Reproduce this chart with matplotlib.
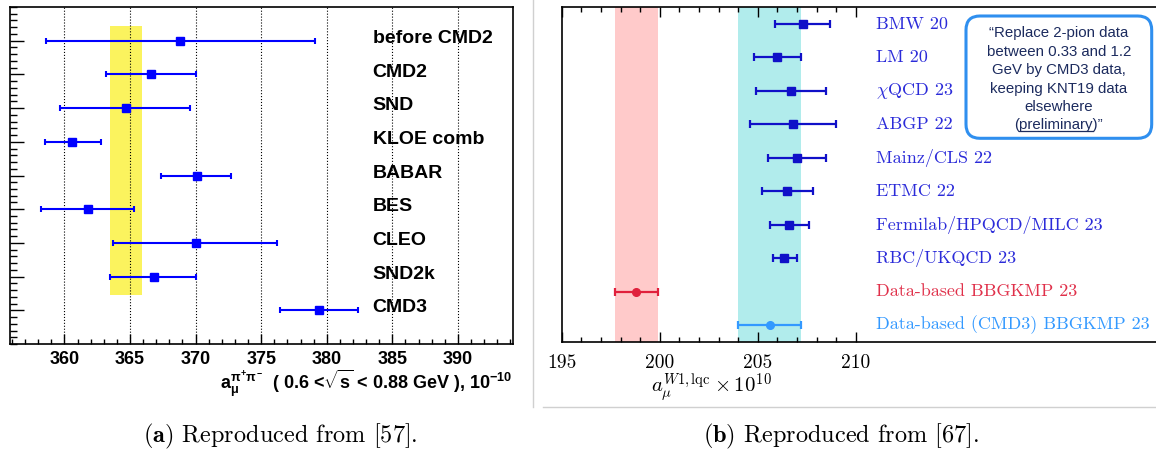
import numpy as np
import matplotlib.pyplot as plt
from matplotlib.patches import FancyBboxPatch
from matplotlib.lines import Line2D
from matplotlib.ticker import MultipleLocator

plt.rcParams['mathtext.fontset'] = 'custom'
plt.rcParams['mathtext.rm'] = 'Liberation Sans:bold'
plt.rcParams['mathtext.it'] = 'Liberation Sans:bold'
plt.rcParams['mathtext.bf'] = 'Liberation Sans:bold'

# panel (a): e+e- -> pi+pi- contribution, 0.6 < sqrt(s) < 0.88 GeV
exp_names = ['before CMD2', 'CMD2', 'SND', 'KLOE comb', 'BABAR', 'BES', 'CLEO', 'SND2k', 'CMD3']
exp_val = np.array([368.8, 366.6, 364.7, 360.6, 370.1, 361.8, 370.0, 366.8, 379.4])
exp_lo = np.array([358.6, 363.2, 359.7, 358.5, 367.4, 358.2, 363.7, 363.5, 376.4])
exp_hi = np.array([379.1, 370.0, 369.6, 362.8, 372.7, 365.3, 376.2, 370.0, 382.4])
band_a = (363.5, 365.9)
band_a_y = (1.45, 9.45)

# panel (b): window observable a_mu^{W1,lqc}
lat_names = ['BMW 20', 'LM 20', r'$\chi$QCD 23', 'ABGP 22', 'Mainz/CLS 22', 'ETMC 22',
             'Fermilab/HPQCD/MILC 23', 'RBC/UKQCD 23', 'Data-based BBGKMP 23',
             'Data-based (CMD3) BBGKMP 23']
lat_val = np.array([207.3, 206.0, 206.7, 206.8, 207.0, 206.5, 206.6, 206.35, 198.8, 205.6])
lat_lo = np.array([205.9, 204.8, 204.9, 204.6, 205.5, 205.2, 205.6, 205.75, 197.7, 204.0])
lat_hi = np.array([208.7, 207.2, 208.5, 209.0, 208.5, 207.8, 207.6, 207.0, 199.9, 207.2])
band_red = (197.7, 199.9)
band_cyan = (204.0, 207.2)

note_lines = ['\u201cReplace 2-pion data', 'between 0.33 and 1.2', 'GeV by CMD3 data,',
              'keeping KNT19 data', 'elsewhere', '(preliminary)\u201d']

fig = plt.figure(figsize=(11.56, 4.55), dpi=100)
W, H = 1156, 455

# ---------- left panel
axL = fig.add_axes([10 / W, 111 / H, 503 / W, 337 / H])
yL = np.arange(len(exp_names))[::-1] + 1
axL.fill_betweenx(band_a_y, band_a[0], band_a[1], color='#fbf35e', lw=0, zorder=0.4)
axL.errorbar(exp_val, yL, xerr=[exp_val - exp_lo, exp_hi - exp_val], fmt='s',
             color='#0000ff', ms=5.5, lw=1.5, capsize=2.5, capthick=1.5, zorder=3)
for yi, name in zip(yL, exp_names):
    axL.text(383.5, yi + 0.07, name, fontsize=14, fontweight='bold',
             family='Liberation Sans', va='center')
axL.set_xlim(355.85, 394.2)
axL.set_ylim(0, 10)
axL.set_xticks(range(360, 391, 5), [str(v) for v in range(360, 391, 5)],
               fontsize=13, fontweight='bold', family='Liberation Sans')
axL.xaxis.set_minor_locator(MultipleLocator(1))
axL.set_yticks(yL, [])
axL.yaxis.set_minor_locator(MultipleLocator(0.2))
axL.tick_params(axis='x', which='major', direction='in', length=7, width=1, pad=5)
axL.tick_params(axis='x', which='minor', direction='in', length=3.5, width=1)
axL.tick_params(axis='y', which='major', direction='in', length=10, width=1)
axL.tick_params(axis='y', which='minor', direction='in', length=5, width=1)
axL.xaxis.grid(True, which='major', linestyle=':', color='k', lw=0.8)
axL.set_axisbelow(True)
for s in axL.spines.values():
    s.set_linewidth(1.2)

fig.text(512 / W, (H - 389) / H,
         r'$\mathbf{a}_{\mu}^{\pi^{+}\pi^{-}}$  ( 0.6 <$\sqrt{s}$ < 0.88 GeV ), 10$^{-10}$',
         fontsize=13, fontweight='bold', family='Liberation Sans', ha='right', va='baseline')

# ---------- right panel
axR = fig.add_axes([561.7 / W, 113.3 / H, 594.3 / W, 334.4 / H])
yR = np.arange(len(lat_names))[::-1]
axR.axvspan(*band_red, color='#ffcaca', lw=0, zorder=0.4)
axR.axvspan(*band_cyan, color='#b1ecec', lw=0, zorder=0.4)
mk_col = ['#1010c8'] * 8 + ['#e0203c', '#3399ff']
txt_col = ['#2b2bd9'] * 8 + ['#e0304a', '#3399ff']
markers = ['s'] * 8 + ['o', 'o']
for i in range(len(lat_names)):
    axR.errorbar(lat_val[i], yR[i], xerr=[[lat_val[i] - lat_lo[i]], [lat_hi[i] - lat_val[i]]],
                 fmt=markers[i], color=mk_col[i], ms=5.5, lw=1.6, capsize=3.2,
                 capthick=1.6, zorder=3)
    axR.text(211.0, yR[i], lat_names[i], fontsize=13, family='cmr10',
             math_fontfamily='cm', color=txt_col[i], va='center')
axR.set_xlim(195, 225.3)
axR.set_ylim(-0.5, 9.5)
axR.set_xticks(range(195, 211, 5), [str(v) for v in range(195, 211, 5)],
               fontsize=14, family='cmr10')
axR.set_xticks([v for v in range(195, 211) if v % 5], minor=True)
axR.set_yticks([])
axR.tick_params(axis='x', which='major', direction='in', length=7, width=1, top=True, pad=9)
axR.tick_params(axis='x', which='minor', direction='in', length=3.5, width=1, top=True)
axR.spines['right'].set_visible(False)
for s in axR.spines.values():
    s.set_linewidth(1.2)

fig.text(711 / W, (H - 388) / H, r'$a_\mu^{W1,\mathrm{lqc}} \times 10^{10}$',
         math_fontfamily='cm', fontsize=15, ha='center', va='center')

# note box
box = FancyBboxPatch((9.66, 3.167), 1.857, 1.223,
                     boxstyle='round,pad=0,rounding_size=0.14',
                     transform=fig.dpi_scale_trans, fc='white', ec='#2f8fef', lw=2.2)
fig.add_artist(box)
note_kw = dict(transform=fig.dpi_scale_trans, ha='center', va='center', fontsize=10.8,
               family='Liberation Sans', color='#1c2b5e')
note_txt = [fig.text(10.588, 4.215 - k * 0.184, line, **note_kw)
            for k, line in enumerate(note_lines)]

# underline "preliminary"
fig.canvas.draw()
r = fig.canvas.get_renderer()
bb = note_txt[-1].get_window_extent(r)
tmp = fig.text(0, 0, '(', **note_kw)
w1 = tmp.get_window_extent(r).width
tmp.set_text('preliminary')
w2 = tmp.get_window_extent(r).width
tmp.remove()
inv = fig.transFigure.inverted()
(ux0, uy), (ux1, _) = inv.transform([(bb.x0 + w1, bb.y0 + 2), (bb.x0 + w1 + w2, bb.y0 + 2)])
fig.add_artist(Line2D([ux0, ux1], [uy, uy], transform=fig.transFigure,
                      color='#1c2b5e', lw=0.9))

# page separators
fig.add_artist(Line2D([533 / W, 533 / W], [(H - 406.5) / H, 1], transform=fig.transFigure,
                      color='#d0d0d0', lw=1))
fig.add_artist(Line2D([543 / W, 1], [(H - 406.5) / H, (H - 406.5) / H],
                      transform=fig.transFigure, color='#d0d0d0', lw=1))

# captions
fig.text(280 / W, 19 / H, r'$\mathbf{(a)}$ Reproduced from [57].', family='cmr10',
         math_fontfamily='cm', fontsize=17.5, ha='center', va='center')
fig.text(841 / W, 19 / H, r'$\mathbf{(b)}$ Reproduced from [67].', family='cmr10',
         math_fontfamily='cm', fontsize=17.5, ha='center', va='center')

fig.savefig('out.png', dpi=100)
